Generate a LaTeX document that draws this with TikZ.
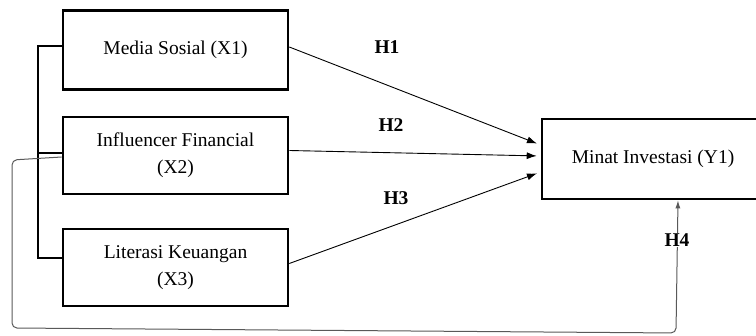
\documentclass[tikz,border=0pt]{standalone}
\usepackage{fontspec}
\setmainfont{Liberation Serif}
\usetikzlibrary{arrows.meta}

\tikzset{
  varbox/.style={draw, line width=2.6pt, minimum width=225pt, align=center,
    font=\fontsize{19.5}{27}\selectfont},
  hyp/.style={font=\fontsize{19.5}{23}\selectfont\bfseries},
  path/.style={-{Latex[length=10pt,width=7pt]}, line width=0.9pt, shorten >=4pt},
}

\begin{document}
\begin{tikzpicture}[x=1pt,y=-1pt]
\clip (0,0) rectangle (756,336);
\useasboundingbox (0,0) rectangle (756,336);
\node[varbox, minimum height=79pt] (x1) at (175.5,50) {Media Sosial (X1)};
\node[varbox, minimum height=77pt] (x2) at (175.5,155.5) {Influencer Financial\\(X2)};
\node[varbox, minimum height=77pt] (x3) at (175.5,267.5) {Literasi Keuangan\\(X3)};
\node[varbox, minimum width=222pt, minimum height=80pt] (y1) at (653,159) {Minat Investasi (Y1)};
% bracket on the left
\coordinate (b1) at (38,46);
\coordinate (b2) at (38,153);
\coordinate (b3) at (38,258);
\draw[line width=2.6pt] (x1.west |- b1) -- (b1) -- (b3) -- (x3.west |- b3);
\draw[line width=2.6pt] (b2) -- (x2.west |- b2);
% hypotheses
\draw[path] ([yshift=3pt]x1.east) -- ([yshift=14pt]y1.west);
\draw[path] ([yshift=5pt]x2.east) -- ([yshift=3pt]y1.west);
\draw[path] ([yshift=4pt]x3.east) -- ([yshift=-13pt]y1.west);
\node[hyp] (h1) at (387,47) {H1};
\node[hyp] (h2) at (391,125) {H2};
\node[hyp] (h3) at (396,198) {H3};
% loop round the bottom
\coordinate (l1) at (12,160);
\coordinate (l2) at (12,328);
\coordinate (l3) at (676,333);
\coordinate (l4) at (678,199);
\draw[black!65, line width=1pt, rounded corners=5pt, -{Latex[length=8pt,width=5pt]}]
  ([yshift=-1.5pt]x2.west) -- (l1) -- (l2) -- (l3) -- (l4 |- y1.south);
\node[hyp, fill=white, inner sep=1pt] (h4) at (677,240) {H4};
\end{tikzpicture}
\end{document}
